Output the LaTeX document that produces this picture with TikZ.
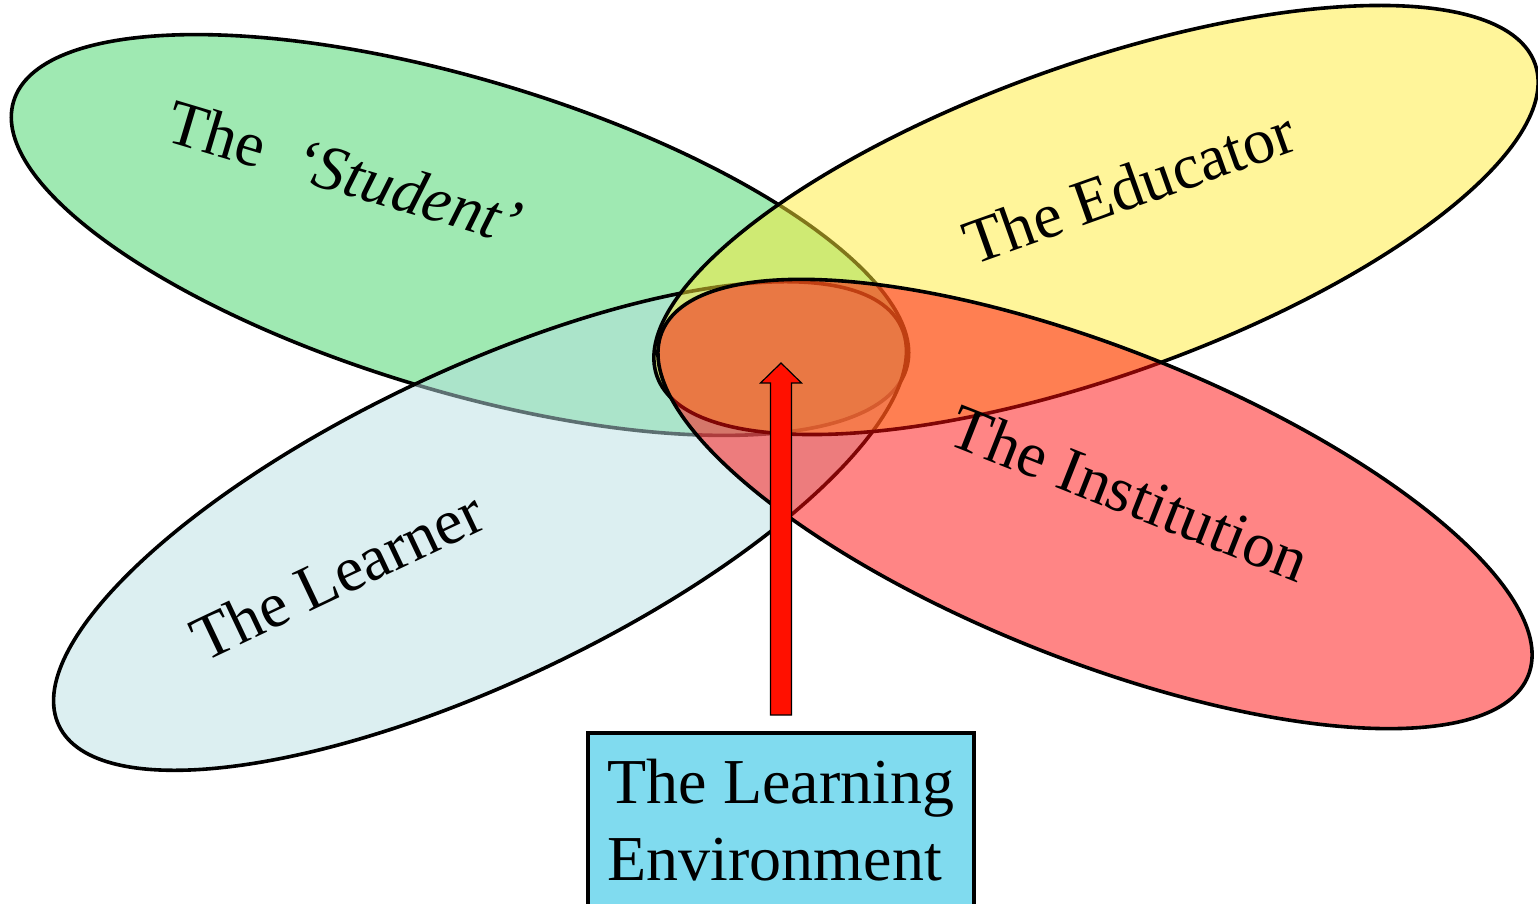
\documentclass[tikz,border=0pt]{standalone}
\usepackage{fontspec}
\setmainfont{Liberation Serif}
\usetikzlibrary{shapes.geometric}
\definecolor{petalgreen}{RGB}{63,211,101}
\definecolor{petalblue}{RGB}{185,223,227}
\definecolor{petalyellow}{RGB}{255,235,53}
\definecolor{petalred}{RGB}{255,11,11}
\definecolor{envblue}{RGB}{128,219,239}
\definecolor{arrowred}{RGB}{255,16,0}
\begin{document}
\begin{tikzpicture}[x=1pt,y=1pt,
		petal/.style={ellipse,draw,line width=3.6pt,fill opacity=.5,inner sep=0pt,minimum width=932pt,minimum height=312pt},
		petallabel/.style={font=\fontsize{64}{77}\selectfont},
		envbox/.style={draw,line width=3.8pt,fill=envblue,align=left,inner xsep=20pt,inner ysep=26pt,text depth=60pt,font=\fontsize{64}{77}\selectfont},
		uparrow/.style={draw,fill=arrowred,line width=1.2pt,line join=miter}]
		\useasboundingbox (0,0) rectangle (1538,903);
		\node[petal,fill=petalgreen,rotate=-16.65] (student) at (460,668) {};
		\node[petal,fill=petalblue,rotate=25.35] (learner) at (480,377) {};
		\node[petal,fill=petalyellow,rotate=19.6] (educator) at (1096,683) {};
		\node[petal,fill=petalred,rotate=-21.6] (institution) at (1095,399) {};
		\node[petallabel,rotate=-16.65] (studentlabel) at (345,731) {The\ \ \textit{‘Student’}};
		\node[petallabel,rotate=19.6] (educatorlabel) at (1129,716) {The Educator};
		\node[petallabel,rotate=25.35] (learnerlabel) at (337,328) {The Learner};
		\node[petallabel,rotate=-21.6] (institutionlabel) at (1130,410) {The Institution};
		\node[envbox,anchor=north] (env) at (781,172) {The Learning\\Environment};
		\path (env.north) ++(0,16) coordinate (foot);
		\coordinate (tip) at (781,540);
		\draw[uparrow] (foot) -- ++(10.5,0) -- ++(0,332) -- ++(10,0) -- (tip) -- ++(-20.5,-20) -- ++(10,0) -- ++(0,-332) -- cycle;
	\end{tikzpicture}
\end{document}
